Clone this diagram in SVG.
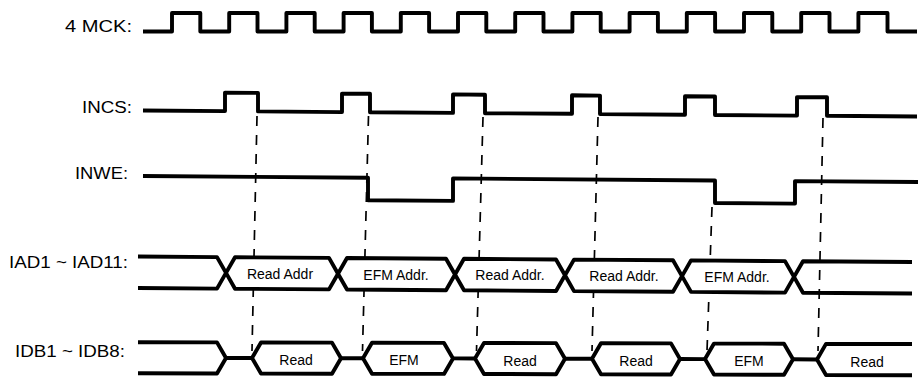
<svg xmlns="http://www.w3.org/2000/svg" width="921" height="382" viewBox="0 0 921 382">
<style>
.sig{fill:none;stroke:#000;stroke-width:3.9;stroke-linejoin:round;stroke-linecap:butt}
.bus{fill:#fff;stroke:#000;stroke-width:3.9;stroke-linejoin:round}
.dash{fill:none;stroke:#000;stroke-width:1.7;stroke-dasharray:10 9}
.lbl{font-family:"Liberation Sans",Arial,sans-serif;font-size:16px;fill:#000;text-anchor:end}
.txt{font-family:"Liberation Sans",Arial,sans-serif;font-size:14px;fill:#000;text-anchor:middle}
</style>
<rect width="921" height="382" fill="#fff"/>

<g id="connectors">
<line class="dash" x1="257" y1="116" x2="252" y2="351"/>
<line class="dash" x1="368.5" y1="116" x2="362.5" y2="351"/>
<line class="dash" x1="483" y1="117" x2="476.5" y2="351"/>
<line class="dash" x1="598" y1="117" x2="592" y2="351"/>
<line class="dash" x1="712" y1="207" x2="707" y2="351"/>
<line class="dash" x1="823" y1="118" x2="818" y2="351"/>
</g>

<g id="mck">
<text class="lbl" x="132" y="32" textLength="67" lengthAdjust="spacingAndGlyphs">4 MCK:</text>
<path class="sig" d="M143,31.5 H172 V13 H200.3 V31.5 H229.2 V13 H257.5 V31.5 H286.4 V13 H314.7 V31.5 H343.6 V13 H371.9 V31.5 H400.8 V13 H429.1 V31.5 H458 V13 H486.3 V31.5 H515.2 V13 H543.5 V31.5 H572.4 V13 H600.7 V31.5 H629.6 V13 H657.9 V31.5 H686.8 V13 H715.1 V31.5 H744 V13 H772.3 V31.5 H801.2 V13 H829.5 V31.5 H858.4 V13 H887.5 V31.5 H917"/>
</g>

<g id="incs">
<text class="lbl" x="132" y="113" textLength="50" lengthAdjust="spacingAndGlyphs">INCS:</text>
<path class="sig" d="M143,110.5 L225,111.1 L225,92.6 L258,92.9 L258,111.4 L342,112.1 L342,93.6 L370,93.8 L370,112.3 L453,112.9 L453,94.4 L485,94.7 L485,113.2 L572,113.8 L572,95.3 L600,95.6 L600,114.1 L685,114.7 L685,96.2 L715,96.5 L715,115 L797,115.6 L797,97.1 L827,97.3 L827,115.8 L917,116.5"/>
</g>

<g id="inwe">
<text class="lbl" x="128" y="179" textLength="53" lengthAdjust="spacingAndGlyphs">INWE:</text>
<path class="sig" d="M143,176 L368,177.8 L368,200.3 L453,200.9 L453,178.4 L715,180.5 L715,203 L795,203.6 L795,181.1 L918,182"/>
</g>

<g id="iad">
<text class="lbl" x="128" y="268" textLength="119" lengthAdjust="spacingAndGlyphs">IAD1 ~ IAD11:</text>
<path class="sig" d="M138,256.5 L217,257.1 L226,272.9 L217,288.6 L138,288"/>
<path class="bus" d="M226,272.9 L235,257.2 L329,257.9 L338,273.7 L329,289.4 L235,288.7 Z"/>
<path class="bus" d="M338,273.7 L347,258 L446,258.7 L455,274.5 L446,290.2 L347,289.5 Z"/>
<path class="bus" d="M455,274.5 L464,258.8 L556,259.5 L565,275.3 L556,291 L464,290.3 Z"/>
<path class="bus" d="M565,275.3 L574,259.6 L673,260.3 L682,276.1 L673,291.8 L574,291.1 Z"/>
<path class="bus" d="M682,276.1 L691,260.4 L785,261.1 L794,276.9 L785,292.6 L691,291.9 Z"/>
<path class="sig" d="M912,262 L803,261.2 L794,276.9 L803,292.7 L912,293.5"/>
<text class="txt" x="280" y="278.5">Read Addr</text>
<text class="txt" x="396" y="279.5">EFM Addr.</text>
<text class="txt" x="510" y="280.3">Read Addr.</text>
<text class="txt" x="624" y="281">Read Addr.</text>
<text class="txt" x="737" y="282">EFM Addr.</text>
</g>

<g id="idb">
<text class="lbl" x="125" y="357" textLength="110" lengthAdjust="spacingAndGlyphs">IDB1 ~ IDB8:</text>
<path class="sig" d="M138,342.2 L217,342.4 L226,358 L217,373.5 L138,373.3"/>
<path class="sig" d="M226,358 L252,358 M341,358.2 L363,358.3 M453,358.4 L475,358.5 M565,358.7 L592,358.8 M680,359 L705,359.1 M793,359.3 L817,359.5"/>
<path class="bus" d="M252,358 L261,342.5 L332,342.6 L341,358.2 L332,373.7 L261,373.5 Z"/>
<path class="bus" d="M363,358.3 L372,342.8 L444,342.9 L453,358.4 L444,373.9 L372,373.8 Z"/>
<path class="bus" d="M475,358.5 L484,343 L556,343.1 L565,358.7 L556,374.2 L484,374 Z"/>
<path class="bus" d="M592,358.8 L601,343.3 L671,343.4 L680,359 L671,374.5 L601,374.3 Z"/>
<path class="bus" d="M705,359.1 L714,343.6 L784,343.7 L793,359.3 L784,374.8 L714,374.6 Z"/>
<path class="sig" d="M912,344 L826,343.9 L817,359.5 L826,375 L912,375.2"/>
<text class="txt" x="296" y="365">Read</text>
<text class="txt" x="404" y="365.3">EFM</text>
<text class="txt" x="520" y="365.6">Read</text>
<text class="txt" x="636" y="366">Read</text>
<text class="txt" x="749" y="366.2">EFM</text>
<text class="txt" x="867" y="366.6">Read</text>
</g>
</svg>
